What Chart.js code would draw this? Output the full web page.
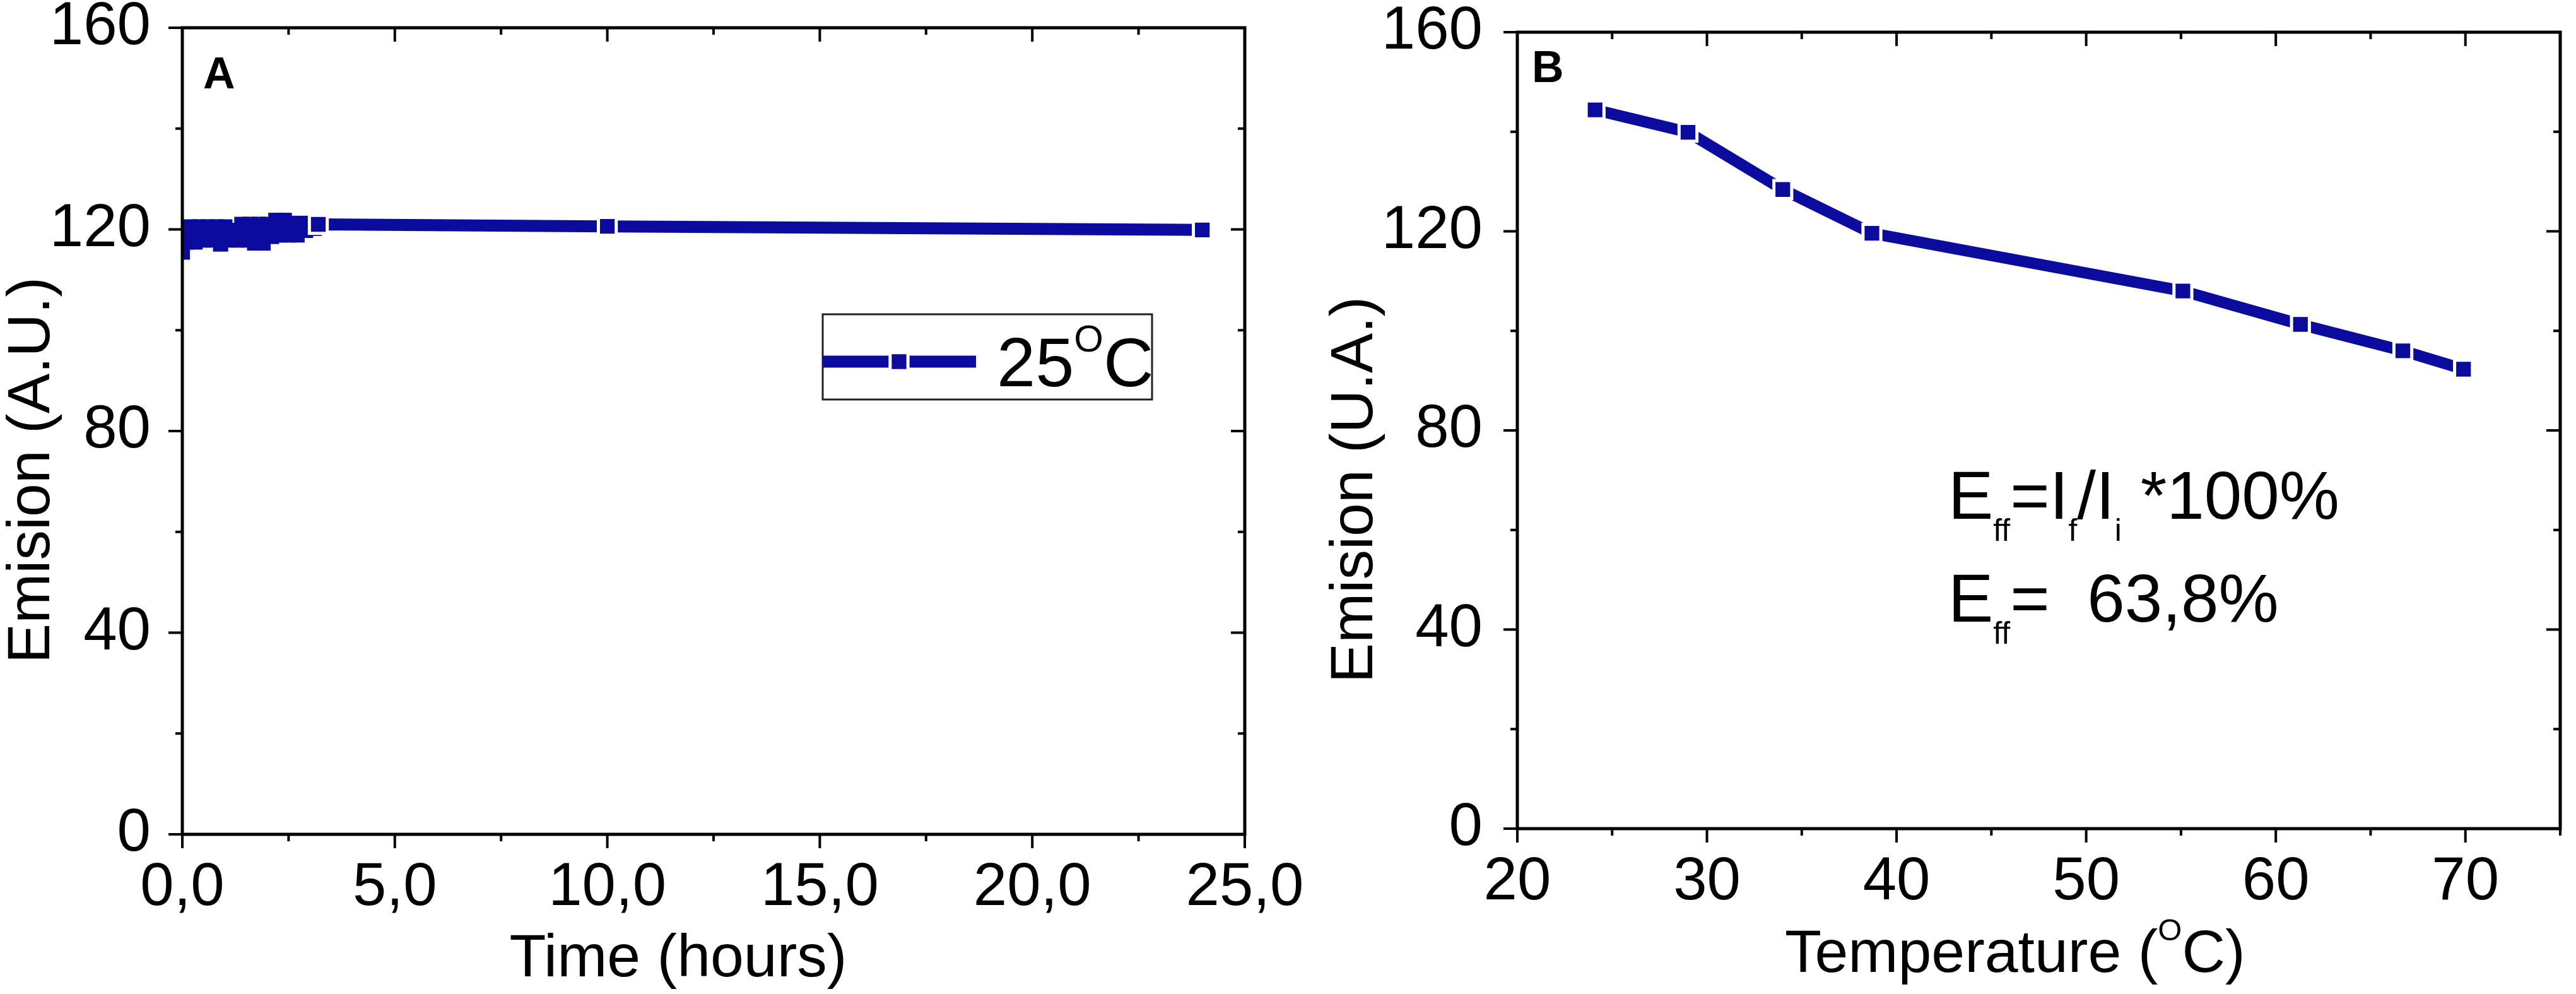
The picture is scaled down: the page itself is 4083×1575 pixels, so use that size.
<!DOCTYPE html>
<html>
<head>
<meta charset="utf-8">
<script src="https://cdn.jsdelivr.net/npm/chart.js@4.4.1/dist/chart.umd.min.js"></script>
<style>
  html, body { margin: 0; padding: 0; background: #fff; }
  #wrap { position: relative; width: 4083px; height: 1575px; }
  canvas { position: absolute; left: 0; top: 0; }
</style>
</head>
<body>
<div id="wrap">
  <canvas id="chartA" width="4083" height="1575"></canvas>
  <canvas id="chartB" width="4083" height="1575"></canvas>
</div>
<script>
// panel A: emission vs time at 25 C
const timeHours = [0, 0.03, 0.1, 0.2, 0.3, 0.4, 0.5, 0.6, 0.7, 0.8, 0.9, 1.0, 1.1, 1.2, 1.3, 1.4, 1.5,
    1.6, 1.7, 1.8, 1.9, 2.0, 2.1, 2.2, 2.3, 2.4, 2.5, 2.6, 2.7, 2.8, 2.9, 3.0, 3.1, 3.2, 10, 24];
const emisionTime = [115.5, 118.9, 117.5, 120.5, 117.5, 120.5, 117.9, 120.5, 117.9, 120.5, 117.1, 120.5,
    117.9, 119.8, 117.9, 121.0, 117.9, 121.0, 117.3, 121.0, 117.3, 121.0, 118.6, 121.8, 118.9, 121.8,
    118.9, 121.2, 118.9, 121.2, 119.8, 121.2, 120.2, 121.0, 120.6, 119.9];
const timeTicks = [0, 5, 10, 15, 20, 25];
const timeTickLabels = ['0,0', '5,0', '10,0', '15,0', '20,0', '25,0'];
const timeMinorTicks = [2.5, 7.5, 12.5, 17.5, 22.5];

// panel B: emission vs temperature
const temperature = [24.1, 29.0, 34.0, 38.7, 55.1, 61.3, 66.7, 69.9];
const emisionTemp = [144.4, 139.9, 128.4, 119.6, 108.0, 101.3, 96.0, 92.3];
const tempTicks = [20, 30, 40, 50, 60, 70];
const tempTickLabels = ['20', '30', '40', '50', '60', '70'];
const tempMinorTicks = [25, 35, 45, 55, 65, 75];

const emisionTicks = [0, 40, 80, 120, 160];
const emisionTickLabels = ['0', '40', '80', '120', '160'];
const emisionMinorTicks = [20, 60, 100, 140];

const BLUE = '#0b0b9e';
const FONT = "'Liberation Sans', Arial, Helvetica, sans-serif";
const bandEnd = timeHours.indexOf(3.2);

// draw text pieces one after another, sub/superscripts via size + dy
function drawRich(ctx, x, y, parts) {
    let cx = x;
    parts.forEach(([text, size, dy]) => {
        ctx.font = `${size}px ${FONT}`;
        ctx.fillText(text, cx, y + (dy || 0));
        cx += ctx.measureText(text).width;
    });
}

// box frame with Origin style ticks: out on bottom/left, in on top/right
const framePlugin = {
    id: 'frame',
    afterDatasetsDraw(chart, args, opts) {
        const {ctx, chartArea: a} = chart;
        const xs = chart.scales.x, ys = chart.scales.y;
        const line = (x1, y1, x2, y2) => {
            ctx.beginPath(); ctx.moveTo(x1, y1); ctx.lineTo(x2, y2); ctx.stroke();
        };
        ctx.save();
        ctx.strokeStyle = '#000';
        ctx.lineWidth = 5;
        ctx.strokeRect(a.left, a.top, a.right - a.left, a.bottom - a.top);
        ctx.lineWidth = 4;
        const xTick = (v, len) => {
            const px = xs.getPixelForValue(v);
            line(px, a.bottom, px, a.bottom + len);
            line(px, a.top, px, a.top + len);
        };
        const yTick = (v, len) => {
            const py = ys.getPixelForValue(v);
            line(a.left - len, py, a.left, py);
            line(a.right - len, py, a.right, py);
        };
        opts.xMajor.forEach(v => xTick(v, 22));
        opts.xMinor.forEach(v => xTick(v, 11));
        opts.yMajor.forEach(v => yTick(v, 22));
        opts.yMinor.forEach(v => yTick(v, 11));
        ctx.restore();
    }
};

function axisScales(xMin, xMax, xTicks, xLabels, xHeight, yWidth, yPad) {
    const tickFont = {family: FONT, size: 96, lineHeight: 1.2};
    return {
        x: {
            type: 'linear', min: xMin, max: xMax,
            grid: {display: false}, border: {display: false},
            afterBuildTicks: s => { s.ticks = xTicks.map(v => ({value: v})); },
            ticks: {callback: (v, i) => xLabels[i], font: tickFont, color: '#000',
                padding: 20, maxRotation: 0, autoSkip: false},
            afterFit: s => { s.height = xHeight; s.paddingLeft = 0; s.paddingRight = 0; }
        },
        y: {
            type: 'linear', min: 0, max: 160,
            grid: {display: false}, border: {display: false},
            afterBuildTicks: s => { s.ticks = emisionTicks.map(v => ({value: v})); },
            ticks: {callback: (v, i) => emisionTickLabels[i], font: tickFont, color: '#000',
                padding: yPad, autoSkip: false},
            afterFit: s => { s.width = yWidth; s.paddingTop = 0; s.paddingBottom = 0; }
        }
    };
}

const textA = {
    id: 'textA',
    afterDraw(chart) {
        const ctx = chart.ctx;
        ctx.save();
        ctx.fillStyle = '#000';
        ctx.textBaseline = 'alphabetic';
        ctx.textAlign = 'left';
        ctx.font = `bold 70px ${FONT}`;
        ctx.fillText('A', 322, 140);

        ctx.textAlign = 'center';
        ctx.font = `95px ${FONT}`;
        ctx.fillText('Time (hours)', 1075, 1547);
        ctx.save();
        ctx.translate(78, 745);
        ctx.rotate(-Math.PI / 2);
        ctx.fillText('Emision (A.U.)', 0, 0);
        ctx.restore();

        // legend box
        ctx.lineWidth = 3;
        ctx.strokeStyle = '#222';
        ctx.strokeRect(1304, 498, 522, 135);
        ctx.strokeStyle = BLUE;
        ctx.lineWidth = 19;
        ctx.beginPath(); ctx.moveTo(1304, 573); ctx.lineTo(1547, 573); ctx.stroke();
        ctx.fillStyle = BLUE;
        ctx.strokeStyle = '#fff';
        ctx.lineWidth = 5;
        Chart.helpers.drawPoint(ctx, {pointStyle: 'rect', radius: 20, borderWidth: 5, rotation: 0}, 1425, 573);
        ctx.fillStyle = '#000';
        ctx.textAlign = 'left';
        drawRich(ctx, 1580, 612, [['25', 110], ['O', 60, -55], ['C', 110]]);
        ctx.restore();
    }
};

const textB = {
    id: 'textB',
    afterDraw(chart) {
        const ctx = chart.ctx;
        ctx.save();
        ctx.fillStyle = '#000';
        ctx.textBaseline = 'alphabetic';
        ctx.textAlign = 'left';
        ctx.font = `bold 70px ${FONT}`;
        ctx.fillText('B', 2428, 130);

        drawRich(ctx, 2829, 1540, [['Temperature (', 95], ['O', 49, -50], ['C)', 95]]);

        ctx.save();
        ctx.textAlign = 'center';
        ctx.font = `95px ${FONT}`;
        ctx.translate(2175, 776);
        ctx.rotate(-Math.PI / 2);
        ctx.fillText('Emision (U.A.)', 0, 0);
        ctx.restore();

        drawRich(ctx, 3088, 822, [['E', 107], ['ff', 50, 35], ['=I', 107], ['f', 50, 35],
            ['/I', 107], ['i', 50, 35], [' *100%', 107]]);
        drawRich(ctx, 3088, 985, [['E', 107], ['ff', 50, 35], ['=  63,8%', 107]]);
        ctx.restore();
    }
};

new Chart(document.getElementById('chartA'), {
    type: 'line',
    data: {
        datasets: [{
            label: '25 C',
            data: timeHours.map((t, i) => ({x: t, y: emisionTime[i]})),
            borderColor: BLUE,
            borderWidth: 19,
            borderJoinStyle: 'round',
            tension: 0,
            pointStyle: 'rect',
            pointBackgroundColor: BLUE,
            pointRadius: c => c.dataIndex >= bandEnd ? 20 : 17,
            pointBorderColor: c => c.dataIndex >= bandEnd ? '#fff' : BLUE,
            pointBorderWidth: c => c.dataIndex >= bandEnd ? 5 : 0
        }]
    },
    options: {
        responsive: false,
        animation: false,
        devicePixelRatio: 1,
        events: [],
        layout: {padding: {left: 0, top: 44, right: 4083 - 1973, bottom: 0}},
        scales: axisScales(0, 25, timeTicks, timeTickLabels, 1575 - 1322, 289, 42),
        plugins: {
            legend: {display: false},
            tooltip: {enabled: false},
            frame: {xMajor: timeTicks, xMinor: timeMinorTicks, yMajor: emisionTicks, yMinor: emisionMinorTicks}
        }
    },
    plugins: [framePlugin, textA]
});

new Chart(document.getElementById('chartB'), {
    type: 'line',
    data: {
        datasets: [{
            label: 'Emision',
            data: temperature.map((t, i) => ({x: t, y: emisionTemp[i]})),
            borderColor: BLUE,
            borderWidth: 18,
            borderJoinStyle: 'round',
            tension: 0,
            pointStyle: 'rect',
            pointRadius: 20,
            pointBackgroundColor: BLUE,
            pointBorderColor: '#fff',
            pointBorderWidth: 5
        }]
    },
    options: {
        responsive: false,
        animation: false,
        devicePixelRatio: 1,
        events: [],
        layout: {padding: {left: 0, top: 51, right: 4083 - 4071, bottom: 0}},
        scales: axisScales(20, 75, tempTicks, tempTickLabels, 1575 - 1313, 2405, 47),
        plugins: {
            legend: {display: false},
            tooltip: {enabled: false},
            frame: {xMajor: tempTicks, xMinor: tempMinorTicks, yMajor: emisionTicks, yMinor: emisionMinorTicks}
        }
    },
    plugins: [framePlugin, textB]
});
</script>
</body>
</html>
